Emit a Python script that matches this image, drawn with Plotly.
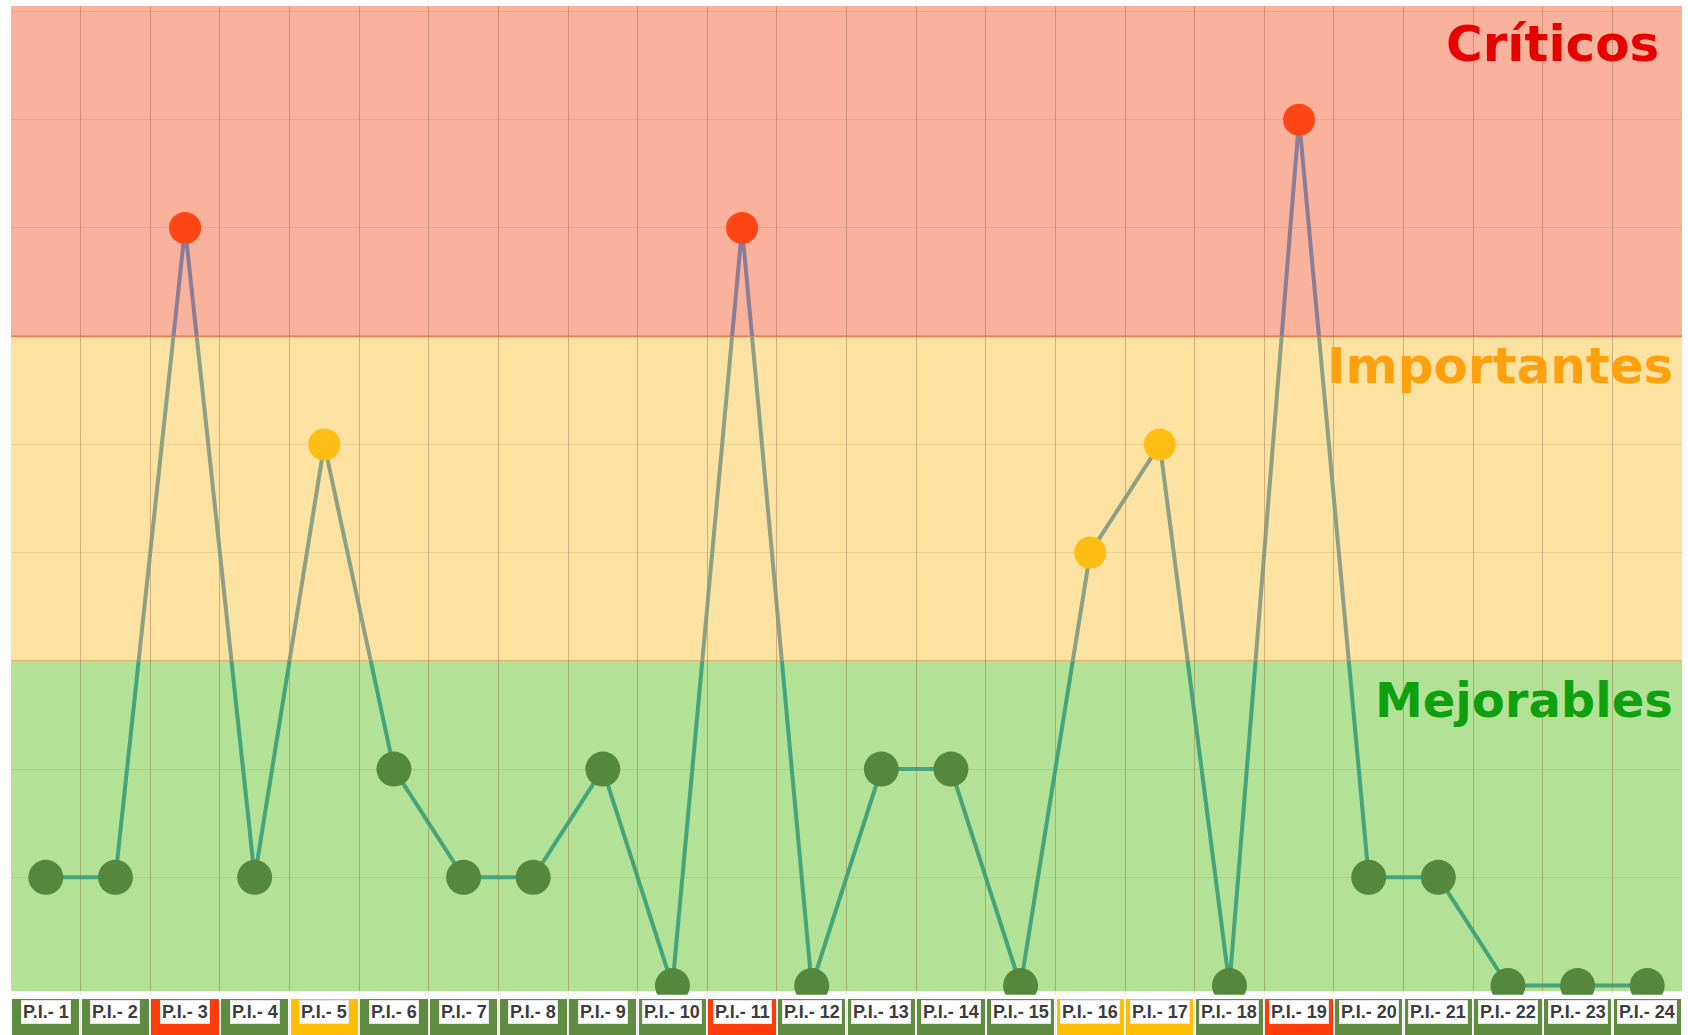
import plotly.graph_objects as go

# Categories and scores
categories = [f"P.I.- {i}" for i in range(1, 25)]
values = [1, 1, 7, 1, 5, 2, 1, 1, 2, 0, 7, 0, 2, 2, 0, 4, 5, 0, 8, 1, 1, 0, 0, 0]

# Priority bands: name, lower limit, upper limit
band_names = ["Mejorables", "Importantes", "Críticos"]
band_limits = [0, 3, 6, 9]

# Styles per band (low -> high)
band_fill = ["#B3E297", "#FEE2A2", "#FBB29C"]
band_text = ["#0FA00F", "#FFA00F", "#E60000"]
line_colors = ["#44A57C", "#8DA083", "#8C7D96"]
marker_colors = ["#55873C", "#FFBE14", "#FF4614"]
marker_sizes = [35, 32, 32]
cell_colors = ["#5F8C41", "#FFBE00", "#FF3C0A"]

W, H = 1688, 1035
M_L, M_R, M_T, M_B = 11, 6, 6, 0
plot_h = H - M_T - M_B

lo, hi = -0.05, 9.05
d0 = 44 / plot_h            # bottom of the chart area (paper fraction)
bar_top = 36 / plot_h       # top of the label strip


def frac(v):
    return d0 + (v - lo) / (hi - lo) * (1 - d0)


def band_of(v):
    if v >= band_limits[2]:
        return 2
    if v >= band_limits[1]:
        return 1
    return 0


levels = [band_of(v) for v in values]

fig = go.Figure()

# Connecting line, drawn once per band so each band clips its own colour
seg_bounds = [(lo, band_limits[1]), (band_limits[1], band_limits[2]), (band_limits[2], hi)]
for i, (a, b) in enumerate(seg_bounds):
    fig.add_trace(go.Scatter(
        x=categories, y=values, mode="lines",
        line=dict(color=line_colors[i], width=4),
        yaxis=f"y{i + 2}", hoverinfo="skip",
    ))
    fig.layout[f"yaxis{i + 2}"] = dict(
        domain=[frac(a), frac(b)], range=[a, b], visible=False,
        fixedrange=True, anchor="x",
    )

# Markers coloured by band, on top of the line; their layer reaches a few
# pixels below the chart area so the bottom markers are only slightly trimmed
lo_m = lo - 0.035
fig.add_trace(go.Scatter(
    x=categories, y=values, mode="markers",
    marker=dict(size=[marker_sizes[l] for l in levels], opacity=1,
                color=[marker_colors[l] for l in levels], line=dict(width=0)),
    yaxis="y5", hoverinfo="skip",
))

# Label strip under the chart
fig.add_trace(go.Bar(
    x=categories, y=[1] * len(categories), width=0.965,
    marker=dict(color=[cell_colors[l] for l in levels], line=dict(width=0)),
    yaxis="y6", hoverinfo="skip",
))

shapes = []
for i in range(3):
    shapes.append(dict(
        type="rect", xref="paper", yref="y", layer="below",
        x0=0, x1=1,
        y0=band_limits[i] if i > 0 else lo,
        y1=band_limits[i + 1] if i < 2 else hi,
        fillcolor=band_fill[i], line=dict(width=0),
    ))
shapes.append(dict(type="line", xref="paper", yref="y", layer="below",
                   x0=0, x1=1, y0=band_limits[2], y1=band_limits[2],
                   line=dict(color="#F7875A", width=2)))
shapes.append(dict(type="line", xref="paper", yref="y", layer="below",
                   x0=0, x1=1, y0=band_limits[1], y1=band_limits[1],
                   line=dict(color="#F2C070", width=1.5)))

annotations = []
for cat in categories:
    annotations.append(dict(
        x=cat, y=0.64, xref="x", yref="y6", text=cat, showarrow=False,
        font=dict(family="Liberation Sans Narrow, Arial Narrow, sans-serif",
                  size=18, color="#3C3C3C", weight="bold"),
        bgcolor="#FFFFFF", bordercolor="#E6E6E6", borderwidth=1, borderpad=1,
    ))

label_x = [0.9958, 0.9958, 0.9875]
label_dy = [0.36, 0.28, 0.3]
label_size = [48, 50, 50]
for i, name in enumerate(band_names):
    annotations.append(dict(
        x=label_x[i], xref="paper", xanchor="right",
        y=band_limits[i + 1] - label_dy[i], yref="y", yanchor="middle",
        text=name, showarrow=False,
        font=dict(family="DejaVu Sans, Verdana, sans-serif", size=label_size[i],
                  color=band_text[i], weight="bold"),
    ))

grid_rgba = "rgba(140,95,60,0.15)"

fig.update_layout(
    width=W, height=H,
    margin=dict(l=M_L, r=M_R, t=M_T, b=M_B, pad=0),
    paper_bgcolor="#FFFFFF", plot_bgcolor="rgba(0,0,0,0)",
    showlegend=False, hovermode=False,
    shapes=shapes, annotations=annotations,
    bargap=0,
    xaxis=dict(
        type="category", categoryorder="array", categoryarray=categories,
        range=[-0.5, len(categories) - 0.5], tickson="boundaries",
        showgrid=True, gridcolor=grid_rgba, gridwidth=1,
        showticklabels=False, ticks="", showline=False, zeroline=False,
        fixedrange=True, domain=[0, 1], anchor="y",
    ),
    yaxis=dict(
        domain=[d0, 1], range=[lo, hi],
        tickvals=list(range(1, 10)), showticklabels=False, ticks="",
        showgrid=True, gridcolor=grid_rgba, gridwidth=1,
        zeroline=False, showline=False, fixedrange=True, anchor="x",
    ),
    yaxis5=dict(domain=[frac(lo_m), 1], range=[lo_m, hi], visible=False,
                fixedrange=True, anchor="x"),
    yaxis6=dict(domain=[0, bar_top], range=[0, 1], visible=False,
                fixedrange=True, anchor="x"),
)

fig.write_html("out.html")
